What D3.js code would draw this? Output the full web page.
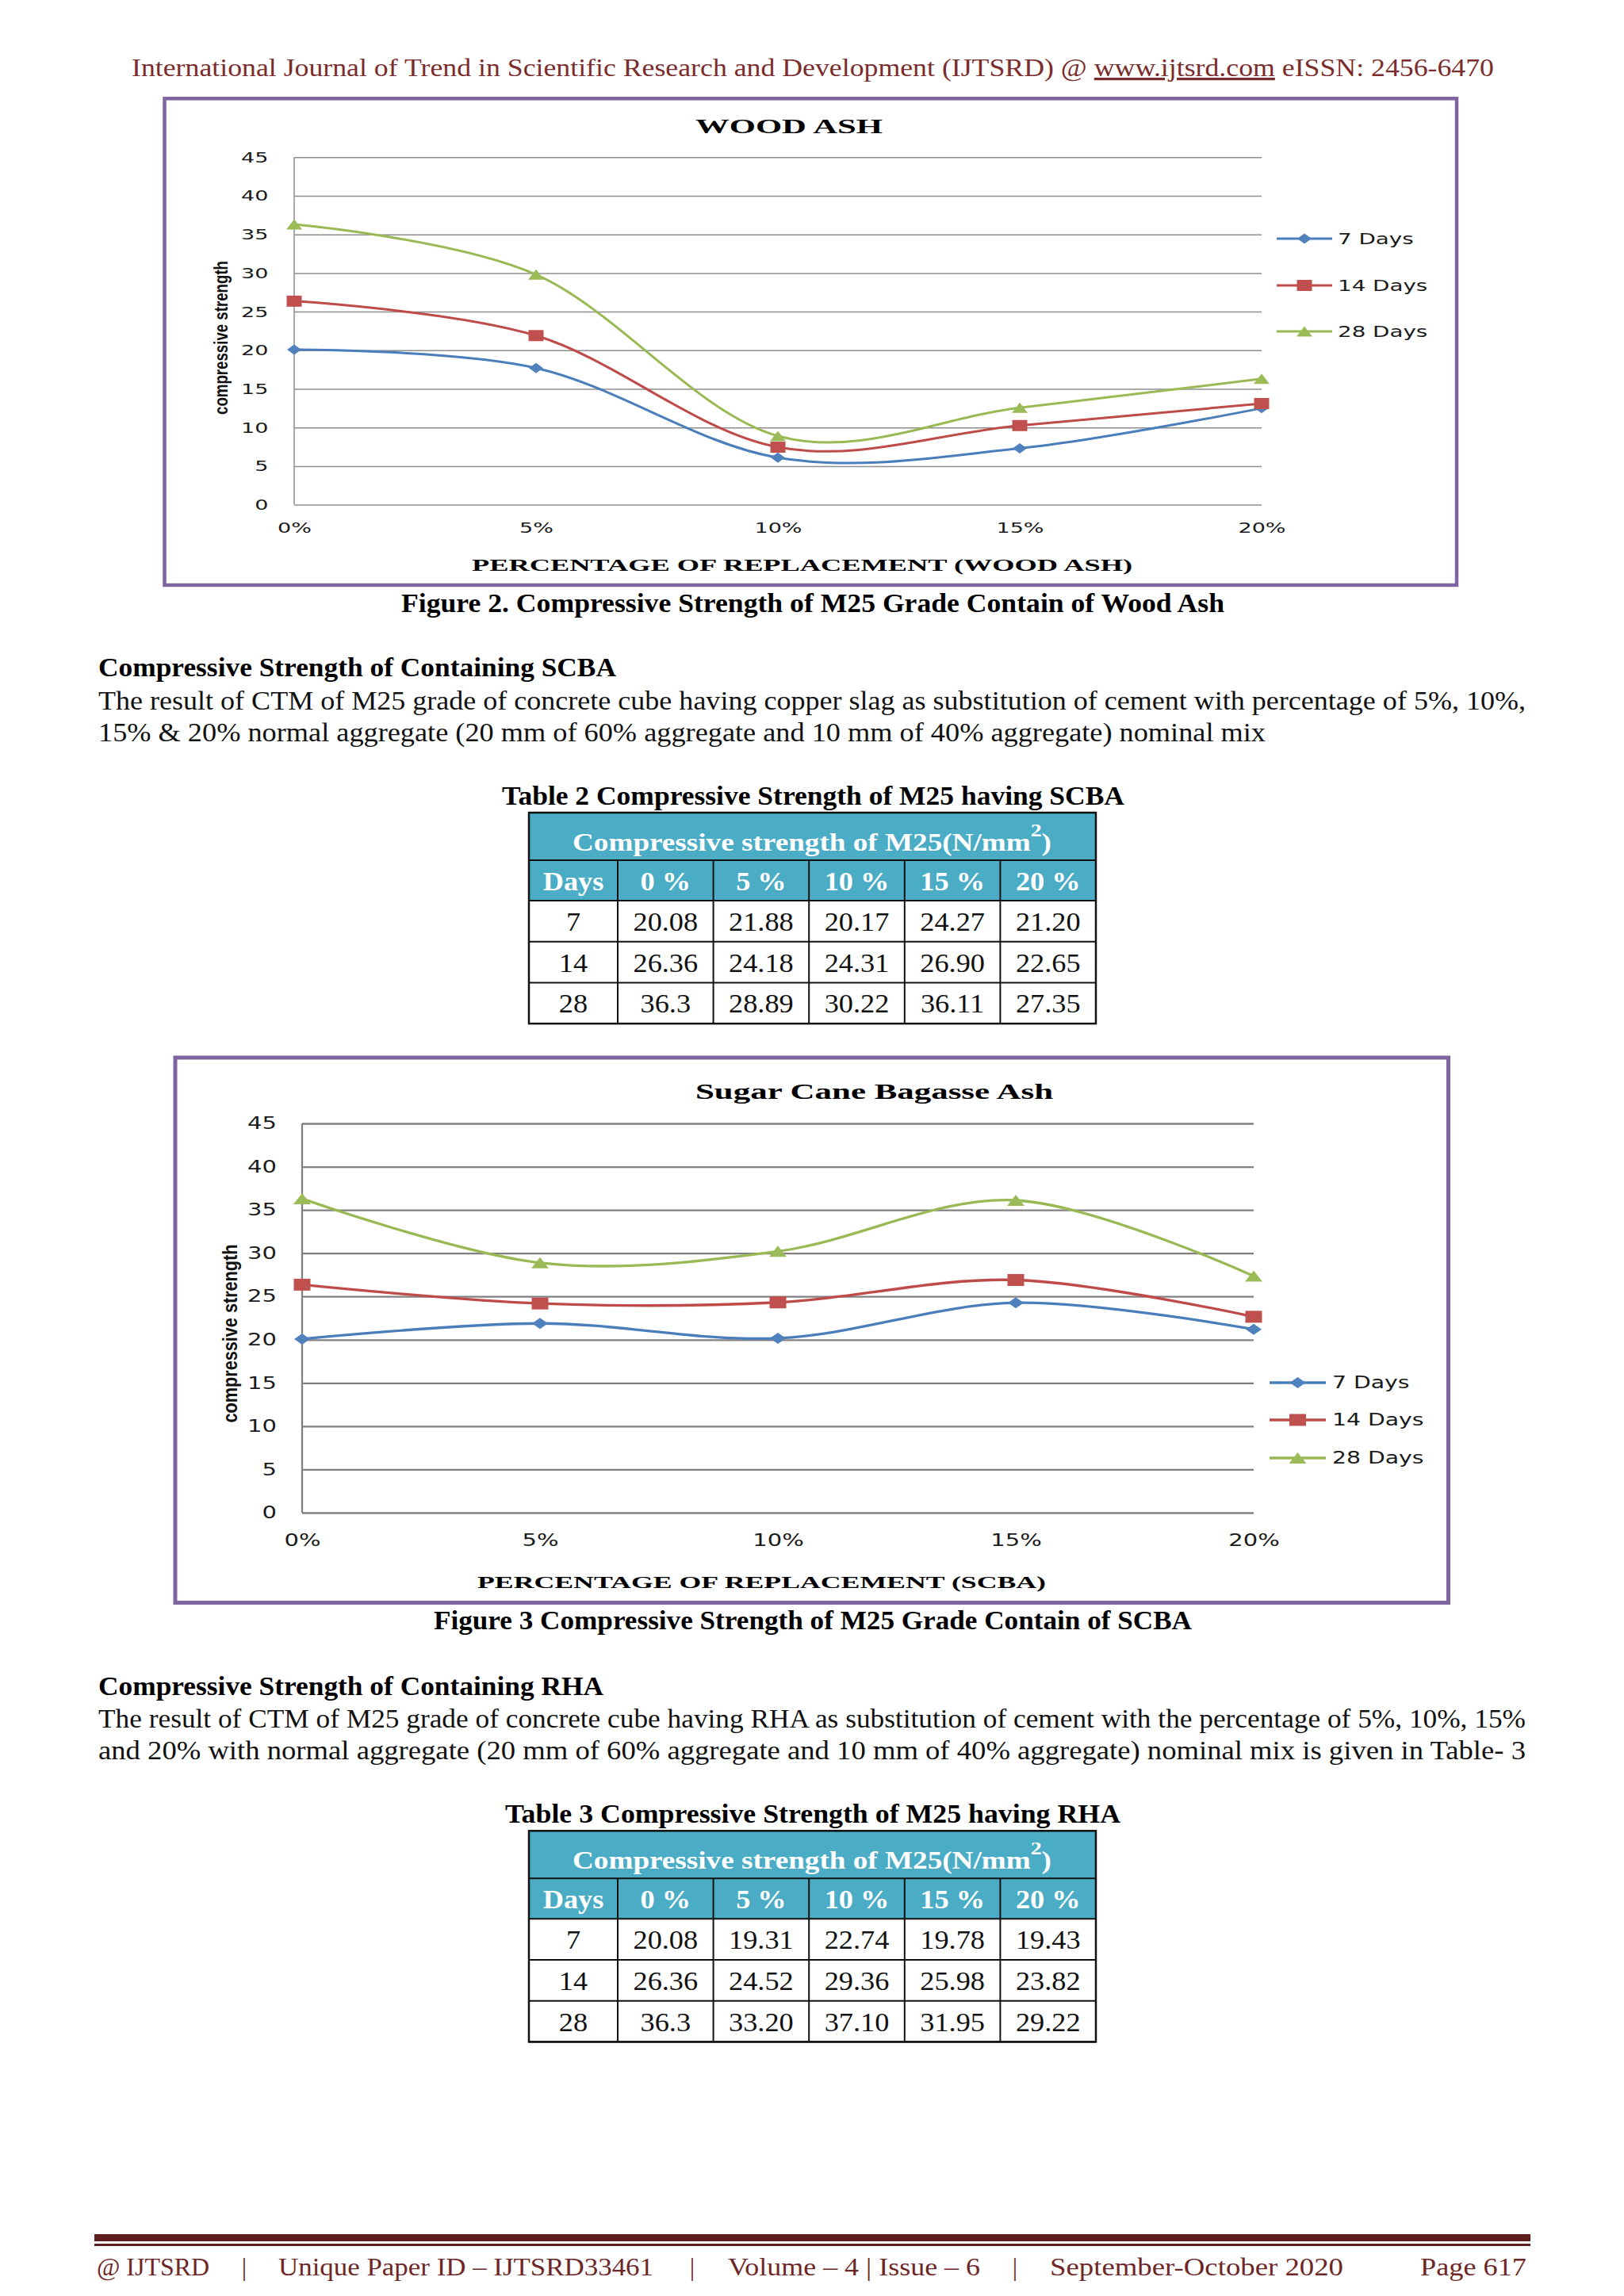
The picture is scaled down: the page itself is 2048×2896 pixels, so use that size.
<!DOCTYPE html>
<html>
<head>
<meta charset="utf-8">
<script src="https://cdn.jsdelivr.net/npm/d3@7"></script>
<style>
  html, body { margin: 0; padding: 0; background: #fff; }
  svg { display: block; }
</style>
</head>
<body>
<script>
'use strict';

// categories shared by both charts
const percentLabels = ['0%', '5%', '10%', '15%', '20%'];
const seriesNames = ['7 Days', '14 Days', '28 Days'];
const yTicks = [0, 5, 10, 15, 20, 25, 30, 35, 40, 45];

// Figure 2 - wood ash
const wood7 = [20.08, 17.7, 6.1, 7.3, 12.5];
const wood14 = [26.36, 21.9, 7.45, 10.25, 13.1];
const wood28 = [36.3, 29.8, 8.9, 12.55, 16.3];

// Table 2 / Figure 3 - SCBA
const tableDays = ['7', '14', '28'];
const tableHeads = ['0 %', '5 %', '10 %', '15 %', '20 %'];
const scba7 = ['20.08', '21.88', '20.17', '24.27', '21.20'];
const scba14 = ['26.36', '24.18', '24.31', '26.90', '22.65'];
const scba28 = ['36.3', '28.89', '30.22', '36.11', '27.35'];

// Table 3 - RHA
const rha7 = ['20.08', '19.31', '22.74', '19.78', '19.43'];
const rha14 = ['26.36', '24.52', '29.36', '25.98', '23.82'];
const rha28 = ['36.3', '33.20', '37.10', '31.95', '29.22'];

const serif = '"Liberation Serif", "Times New Roman", serif';
const sans = '"DejaVu Sans", Verdana, sans-serif';
const lineColors = ['#4a7ebb', '#be4b48', '#98b954'];
const markColors = ['#4f81bd', '#c0504d', '#9bbb59'];
const markShapes = ['diamond', 'square', 'triangle'];
const purple = '#8064a2';
const maroon = '#6e2727';

(function() {
  const svg = d3
    .select('body')
    .append('svg')
    .attr('width', 2048)
    .attr('height', 2896);

  svg.append('rect').attr('width', 2048).attr('height', 2896).attr('fill', '#fff');

  // text helper: sx stretches glyphs horizontally, len forces a width
  function addText(parent, str, o) {
    const t = parent
      .append('text')
      .attr('font-family', o.family || serif)
      .attr('font-size', o.size)
      .attr('font-weight', o.weight || 'normal')
      .attr('fill', o.fill || '#111')
      .attr('text-anchor', o.anchor || 'start')
      .text(str);
    if (o.sx) {
      t.attr('transform', `translate(${o.x},${o.y}) scale(${o.sx},1)`);
    } else {
      t.attr('x', o.x).attr('y', o.y);
    }
    if (o.len) t.attr('textLength', o.len).attr('lengthAdjust', 'spacingAndGlyphs');
    return t;
  }

  function markerPath(shape, w, h) {
    const a = w / 2;
    const b = h / 2;
    if (shape === 'diamond') return `M0,${-b}L${a},0L0,${b}L${-a},0Z`;
    if (shape === 'square') return `M${-a},${-b}H${a}V${b}H${-a}Z`;
    return `M0,${-b}L${a},${b}L${-a},${b}Z`;
  }

  // page header
  const head = svg
    .append('text')
    .attr('x', 166)
    .attr('y', 96)
    .attr('font-family', serif)
    .attr('font-size', 32)
    .attr('fill', '#7b2c2c')
    .attr('textLength', 1718)
    .attr('lengthAdjust', 'spacingAndGlyphs');
  head.append('tspan').text('International Journal of Trend in Scientific Research and Development (IJTSRD) @ ');
  head.append('tspan').style('text-decoration', 'underline').text('www.ijtsrd.com');
  head.append('tspan').text(' eISSN: 2456-6470');

  // draw one excel-style line chart
  function drawChart(c) {
    const g = svg.append('g');

    g.append('rect')
      .attr('x', c.frame[0])
      .attr('y', c.frame[1])
      .attr('width', c.frame[2] - c.frame[0])
      .attr('height', c.frame[3] - c.frame[1])
      .attr('fill', '#fff')
      .attr('stroke', purple)
      .attr('stroke-width', c.frameW);

    const x = d3.scalePoint().domain(percentLabels).range([c.x0, c.x1]);
    const y = d3.scaleLinear().domain([0, 45]).range([c.y0, c.y1]);

    // gridlines + y labels
    g.append('g')
      .attr('transform', `translate(${c.x0},0)`)
      .call(
        d3
          .axisLeft(y)
          .tickValues(yTicks)
          .tickSize(-(c.x1 - c.x0))
          .tickPadding(c.yPad)
      )
      .call(a => a.select('.domain').remove())
      .call(a => a.selectAll('line').attr('stroke', c.grid).attr('stroke-width', c.gridW))
      .call(a =>
        a
          .selectAll('text')
          .attr('font-family', sans)
          .attr('font-size', c.tick)
          .attr('fill', '#1a1a1a')
          .attr('transform', `scale(${c.sx},1)`)
      );

    // vertical axis line
    g.append('line')
      .attr('x1', c.x0)
      .attr('x2', c.x0)
      .attr('y1', y(45))
      .attr('y2', y(0))
      .attr('stroke', c.grid)
      .attr('stroke-width', c.gridW);

    // x labels
    g.append('g')
      .attr('transform', `translate(0,${c.y0})`)
      .call(d3.axisBottom(x).tickSize(0).tickPadding(c.xPad))
      .call(a => a.select('.domain').remove())
      .call(a =>
        a
          .selectAll('text')
          .attr('font-family', sans)
          .attr('font-size', c.tick)
          .attr('fill', '#1a1a1a')
          .attr('transform', `scale(${c.sx},1)`)
      );

    // smoothed lines (excel smoothing ~ catmull-rom)
    const line = d3
      .line()
      .x((d, i) => x(percentLabels[i]))
      .y(d => y(d))
      .curve(d3.curveCardinal.tension(0));

    c.series.forEach((vals, s) => {
      g.append('path')
        .datum(vals)
        .attr('d', line)
        .attr('fill', 'none')
        .attr('stroke', lineColors[s])
        .attr('stroke-width', c.lineW);
    });

    c.series.forEach((vals, s) => {
      g.selectAll(null)
        .data(vals)
        .enter()
        .append('path')
        .attr('transform', (d, i) => `translate(${x(percentLabels[i])},${y(d)})`)
        .attr('d', markerPath(markShapes[s], c.marks[s][0], c.marks[s][1]))
        .attr('fill', markColors[s]);
    });

    // legend
    seriesNames.forEach((name, s) => {
      const ly = c.legend.ys[s];
      g.append('line')
        .attr('x1', c.legend.x0)
        .attr('x2', c.legend.x1)
        .attr('y1', ly)
        .attr('y2', ly)
        .attr('stroke', lineColors[s])
        .attr('stroke-width', c.lineW);
      g.append('path')
        .attr('transform', `translate(${(c.legend.x0 + c.legend.x1) / 2},${ly})`)
        .attr('d', markerPath(markShapes[s], c.marks[s][0], c.marks[s][1]))
        .attr('fill', markColors[s]);
      addText(g, name, {
        x: c.legend.tx,
        y: ly + c.legend.size * 0.36,
        size: c.legend.size,
        family: sans,
        fill: '#1a1a1a',
        sx: c.sx
      });
    });

    // titles
    addText(g, c.title, {
      x: c.titleX - c.titleLen / 2,
      y: c.titleY,
      size: c.titleSize,
      weight: 'bold',
      fill: '#000',
      len: c.titleLen
    });
    addText(g, c.xTitle, {
      x: c.xTitleX - c.xTitleLen / 2,
      y: c.xTitleY,
      size: c.xTitleSize,
      weight: 'bold',
      fill: '#000',
      len: c.xTitleLen
    });
    g.append('text')
      .attr('transform', `translate(${c.yTitleX},${c.yTitleY}) rotate(-90)`)
      .attr('x', -c.yTitleLen / 2)
      .attr('dy', '0.35em')
      .attr('font-family', '"Liberation Sans", Arial, sans-serif')
      .attr('font-weight', 'bold')
      .attr('font-size', c.yTitleSize)
      .attr('fill', '#111')
      .attr('textLength', c.yTitleLen)
      .attr('lengthAdjust', 'spacingAndGlyphs')
      .text('compressive strength');
  }

  drawChart({
    frame: [207.5, 124.3, 1837, 738],
    frameW: 4.5,
    x0: 371,
    x1: 1591,
    y0: 636.6,
    y1: 198.3,
    grid: '#8e8e8e',
    gridW: 1.5,
    lineW: 3,
    tick: 18.5,
    sx: 1.46,
    yPad: 22.3,
    xPad: 22.3,
    series: [wood7, wood14, wood28],
    marks: [[18, 13], [19, 14], [20, 13]],
    legend: { x0: 1610, x1: 1680, tx: 1687, ys: [301, 360, 418], size: 19 },
    title: 'WOOD ASH',
    titleX: 995,
    titleY: 168,
    titleSize: 26,
    titleLen: 236,
    xTitle: 'PERCENTAGE OF REPLACEMENT (WOOD ASH)',
    xTitleX: 1011.5,
    xTitleY: 720,
    xTitleSize: 20,
    xTitleLen: 833,
    yTitleX: 279,
    yTitleY: 426,
    yTitleSize: 24,
    yTitleLen: 194
  });

  drawChart({
    frame: [221, 1334, 1826.5, 2021.5],
    frameW: 5,
    x0: 381,
    x1: 1581,
    y0: 1908,
    y1: 1417,
    grid: '#808080',
    gridW: 2.3,
    lineW: 3.3,
    tick: 21,
    sx: 1.38,
    yPad: 23.2,
    xPad: 27,
    series: [scba7.map(Number), scba14.map(Number), scba28.map(Number)],
    marks: [[20, 14], [21, 15], [22, 14]],
    legend: { x0: 1601, x1: 1672, tx: 1680, ys: [1744, 1791, 1839], size: 20.5 },
    title: 'Sugar Cane Bagasse Ash',
    titleX: 1102.5,
    titleY: 1386,
    titleSize: 28,
    titleLen: 451,
    xTitle: 'PERCENTAGE OF REPLACEMENT (SCBA)',
    xTitleX: 960.5,
    xTitleY: 2003,
    xTitleSize: 22,
    xTitleLen: 717,
    yTitleX: 290,
    yTitleY: 1682,
    yTitleSize: 26,
    yTitleLen: 225
  });

  // data tables
  function drawTable(top, rows) {
    const left = 667;
    const right = 1382;
    const firstW = 112;
    const h1 = 60;
    const h2 = 51;
    const rh = 51.7;
    const bottom = top + h1 + h2 + rh * rows.length;
    const col = d3.scaleBand().domain(tableHeads).range([left + firstW, right]);
    const g = svg.append('g');

    g.append('rect')
      .attr('x', left)
      .attr('y', top)
      .attr('width', right - left)
      .attr('height', h1 + h2)
      .attr('fill', '#4bacc6');

    // header 1
    const t = g
      .append('text')
      .attr('x', 722)
      .attr('y', top + 48)
      .attr('font-family', serif)
      .attr('font-weight', 'bold')
      .attr('font-size', 32)
      .attr('fill', '#fff')
      .attr('textLength', 604)
      .attr('lengthAdjust', 'spacingAndGlyphs');
    t.append('tspan').text('Compressive strength of M25(N/mm');
    t.append('tspan').attr('dy', -18).attr('font-size', 24).text('2');
    t.append('tspan').attr('dy', 18).text(')');

    // header 2
    const h2y = top + h1 + 38;
    addText(g, 'Days', { x: left + firstW / 2, y: h2y, size: 33, weight: 'bold', fill: '#fff', anchor: 'middle', sx: 1.1 });
    tableHeads.forEach(h => {
      addText(g, h, { x: col(h) + col.bandwidth() / 2, y: h2y, size: 33, weight: 'bold', fill: '#fff', anchor: 'middle', sx: 1.1 });
    });

    // body rows
    rows.forEach((row, r) => {
      const by = top + h1 + h2 + rh * r + 38;
      addText(g, tableDays[r], { x: left + firstW / 2, y: by, size: 33, fill: '#111', anchor: 'middle', sx: 1.1 });
      row.forEach((v, i) => {
        const h = tableHeads[i];
        addText(g, v, { x: col(h) + col.bandwidth() / 2, y: by, size: 33, fill: '#111', anchor: 'middle', sx: 1.1 });
      });
    });

    // borders
    const hLines = [top + h1, top + h1 + h2];
    rows.forEach((row, r) => hLines.push(top + h1 + h2 + rh * (r + 1)));
    hLines.forEach(yy => {
      g.append('line').attr('x1', left).attr('x2', right).attr('y1', yy).attr('y2', yy).attr('stroke', '#111').attr('stroke-width', 2);
    });
    const vLines = [left + firstW].concat(tableHeads.slice(1).map(h => col(h)));
    vLines.forEach(xx => {
      g.append('line').attr('x1', xx).attr('x2', xx).attr('y1', top + h1).attr('y2', bottom).attr('stroke', '#111').attr('stroke-width', 2);
    });
    g.append('rect')
      .attr('x', left)
      .attr('y', top)
      .attr('width', right - left)
      .attr('height', bottom - top)
      .attr('fill', 'none')
      .attr('stroke', '#111')
      .attr('stroke-width', 2.5);
  }

  drawTable(1025, [scba7, scba14, scba28]);
  drawTable(2309.3, [rha7, rha14, rha28]);

  // body text
  const bold = { size: 33, weight: 'bold', fill: '#000' };
  const body = { size: 33, fill: '#111' };
  addText(svg, 'Figure 2. Compressive Strength of M25 Grade Contain of Wood Ash', Object.assign({ x: 506, y: 772, len: 1038 }, bold));
  addText(svg, 'Compressive Strength of Containing SCBA', Object.assign({ x: 124, y: 853, len: 653 }, bold));
  addText(svg, 'The result of CTM of M25 grade of concrete cube having copper slag as substitution of cement with percentage of 5%, 10%,', Object.assign({ x: 124, y: 895, len: 1800 }, body));
  addText(svg, '15% & 20% normal aggregate (20 mm of 60% aggregate and 10 mm of 40% aggregate) nominal mix', Object.assign({ x: 124, y: 935, len: 1472 }, body));
  addText(svg, 'Table 2 Compressive Strength of M25 having SCBA', Object.assign({ x: 633, y: 1015, len: 785 }, bold));
  addText(svg, 'Figure 3 Compressive Strength of M25 Grade Contain of SCBA', Object.assign({ x: 547, y: 2055, len: 956 }, bold));
  addText(svg, 'Compressive Strength of Containing RHA', Object.assign({ x: 124, y: 2138, len: 637 }, bold));
  addText(svg, 'The result of CTM of M25 grade of concrete cube having RHA as substitution of cement with the percentage of 5%, 10%, 15%', Object.assign({ x: 124, y: 2179, len: 1800 }, body));
  addText(svg, 'and 20% with normal aggregate (20 mm of 60% aggregate and 10 mm of 40% aggregate) nominal mix is given in Table- 3', Object.assign({ x: 124, y: 2219, len: 1800 }, body));
  addText(svg, 'Table 3 Compressive Strength of M25 having RHA', Object.assign({ x: 637, y: 2299, len: 776 }, bold));

  // footer
  svg.append('rect').attr('x', 119).attr('y', 2818).attr('width', 1811).attr('height', 9).attr('fill', '#5f1f1f');
  svg.append('rect').attr('x', 119).attr('y', 2830).attr('width', 1811).attr('height', 3).attr('fill', '#5f1f1f');
  const foot = { size: 32, fill: maroon };
  addText(svg, '@ IJTSRD', Object.assign({ x: 122, y: 2870, len: 142 }, foot));
  addText(svg, '|', Object.assign({ x: 308, y: 2870, anchor: 'middle' }, foot));
  addText(svg, 'Unique Paper ID \u2013 IJTSRD33461', Object.assign({ x: 351, y: 2870, len: 473 }, foot));
  addText(svg, '|', Object.assign({ x: 873, y: 2870, anchor: 'middle' }, foot));
  addText(svg, 'Volume \u2013 4 | Issue \u2013 6', Object.assign({ x: 918, y: 2870, len: 318 }, foot));
  addText(svg, '|', Object.assign({ x: 1280, y: 2870, anchor: 'middle' }, foot));
  addText(svg, 'September-October 2020', Object.assign({ x: 1324, y: 2870, len: 370 }, foot));
  addText(svg, 'Page 617', Object.assign({ x: 1791, y: 2870, len: 134 }, foot));
})();
</script>
</body>
</html>
